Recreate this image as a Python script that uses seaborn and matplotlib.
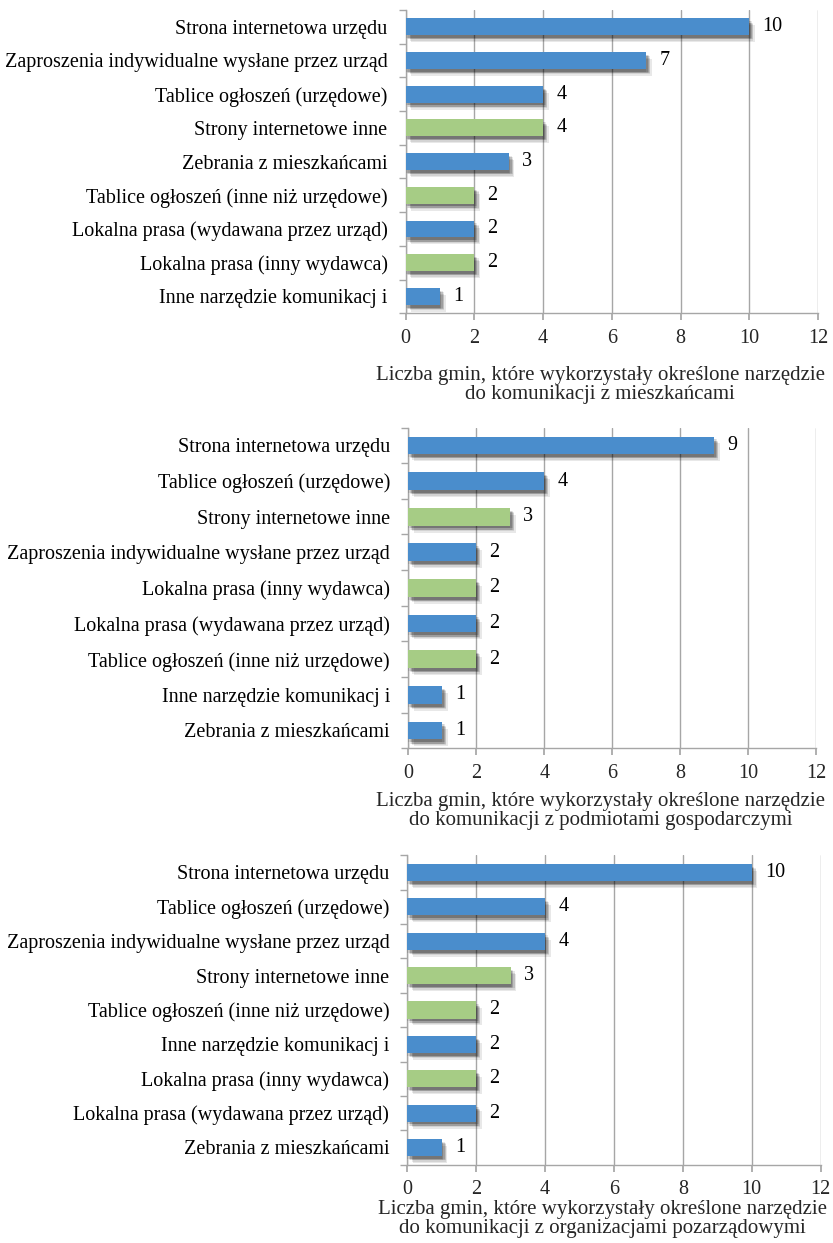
import matplotlib
matplotlib.use("Agg")
import matplotlib.pyplot as plt
import matplotlib.patheffects as pe
from matplotlib.ticker import FixedLocator
import seaborn as sns

# dane - panel 1 (mieszkańcy)
labels_1 = ["Strona internetowa urzędu", "Zaproszenia indywidualne wysłane przez urząd",
            "Tablice ogłoszeń (urzędowe)", "Strony internetowe inne", "Zebrania z mieszkańcami",
            "Tablice ogłoszeń (inne niż urzędowe)", "Lokalna prasa (wydawana przez urząd)",
            "Lokalna prasa (inny wydawca)", "Inne narzędzie komunikacj i"]
values_1 = [10, 7, 4, 4, 3, 2, 2, 2, 1]
groups_1 = ["u", "u", "u", "i", "u", "i", "u", "i", "u"]

# panel 2 (podmioty gospodarcze)
labels_2 = ["Strona internetowa urzędu", "Tablice ogłoszeń (urzędowe)", "Strony internetowe inne",
            "Zaproszenia indywidualne wysłane przez urząd", "Lokalna prasa (inny wydawca)",
            "Lokalna prasa (wydawana przez urząd)", "Tablice ogłoszeń (inne niż urzędowe)",
            "Inne narzędzie komunikacj i", "Zebrania z mieszkańcami"]
values_2 = [9, 4, 3, 2, 2, 2, 2, 1, 1]
groups_2 = ["u", "u", "i", "u", "i", "u", "i", "u", "u"]

# panel 3 (organizacje pozarządowe)
labels_3 = ["Strona internetowa urzędu", "Tablice ogłoszeń (urzędowe)",
            "Zaproszenia indywidualne wysłane przez urząd", "Strony internetowe inne",
            "Tablice ogłoszeń (inne niż urzędowe)", "Inne narzędzie komunikacj i",
            "Lokalna prasa (inny wydawca)", "Lokalna prasa (wydawana przez urząd)",
            "Zebrania z mieszkańcami"]
values_3 = [10, 4, 4, 3, 2, 2, 2, 2, 1]
groups_3 = ["u", "u", "u", "i", "i", "u", "i", "u", "u"]

xlabels = [
    "Liczba gmin, które wykorzystały określone narzędzie\ndo komunikacji z mieszkańcami",
    "Liczba gmin, które wykorzystały określone narzędzie\ndo komunikacji z podmiotami gospodarczymi",
    "Liczba gmin, które wykorzystały określone narzędzie\ndo komunikacji z organizacjami pozarządowymi",
]

palette = {"u": "#4A8DCC", "i": "#A6CC85"}

sns.set_theme(style="white")
plt.rcParams["font.family"] = ["Liberation Serif", "DejaVu Serif"]

fig = plt.figure(figsize=(8.33, 12.43), dpi=100)
boxes = [
    [0.487, 0.748, 0.495, 0.244],
    [0.490, 0.398, 0.490, 0.258],
    [0.489, 0.063, 0.496, 0.249],
]
pads = [13, 7, 1]

# rozmyty cień pod słupkami
shadow = []
for dx, dy in [(1, -2), (2, -3), (3, -4), (2, -2), (3, -3), (4, -5), (1, -3), (0, -2)]:
    shadow.append(pe.SimplePatchShadow(offset=(dx, dy), shadow_rgbFace="black", alpha=0.09))
shadow.append(pe.Normal())

panels = [(labels_1, values_1, groups_1), (labels_2, values_2, groups_2), (labels_3, values_3, groups_3)]
for (labels, values, groups), box, xl, lp in zip(panels, boxes, xlabels, pads):
    ax = fig.add_axes(box)
    sns.barplot(x=values, y=labels, hue=groups, palette=palette, dodge=False, saturation=1,
                legend=False, orient="h", width=0.5, ax=ax, zorder=3, linewidth=0)
    for bar in ax.patches:
        bar.set_path_effects(shadow)
    for i, v in enumerate(values):
        ax.text(v + 0.38, i, str(v), va="center", ha="left", fontsize=14.5, color="black")
    ax.set_xlim(0, 12)
    ax.set_ylim(len(labels) - 0.5, -0.5)
    ax.set_xticks(range(0, 13, 2))
    ax.xaxis.grid(True, color="#A6A6A6", linewidth=1, zorder=0)
    ax.yaxis.grid(False)
    ax.set_axisbelow(True)
    for s in ["top", "right"]:
        ax.spines[s].set_visible(False)
    for s in ["left", "bottom"]:
        ax.spines[s].set_color("#A6A6A6")
        ax.spines[s].set_linewidth(1)
    ax.tick_params(axis="y", length=0, labelsize=14.5, pad=13, colors="black")
    ax.yaxis.set_minor_locator(FixedLocator([k - 0.5 for k in range(len(labels) + 1)]))
    ax.tick_params(axis="y", which="minor", length=5, color="#A6A6A6", left=True)
    ax.tick_params(axis="x", length=5, color="#A6A6A6", labelsize=14.5, pad=6, bottom=True)
    ax.set_xlabel(xl, fontsize=15, labelpad=lp, linespacing=1.0)
    ax.xaxis.label.set_x(0.472)
    ax.set_ylabel("")

fig.savefig("out.png", dpi=100)
